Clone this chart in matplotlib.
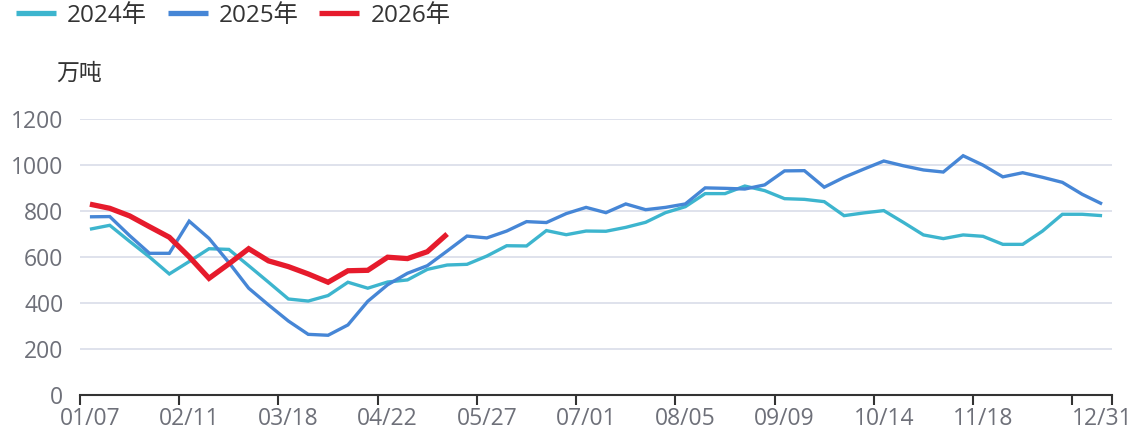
import numpy as np
import matplotlib
matplotlib.use("Agg")
import matplotlib.pyplot as plt

plt.rcParams["font.family"] = ["Open Sans", "Noto Sans CJK SC", "DejaVu Sans"]

# weekly values, 52 weeks (01/07 ... 12/31), unit: 万吨
y2024 = [720, 737, 667, 599, 525, 579, 635, 632, 561, 489,
         416, 407, 431, 489, 463, 490, 499, 545, 564, 567,
         603, 648, 647, 714, 696, 712, 711, 728, 750, 792,
         818, 875, 875, 908, 888, 853, 850, 840, 779, 791,
         801, 749, 695, 679, 695, 689, 654, 654, 712, 785,
         785, 779]
y2025 = [774, 775, 692, 615, 615, 755, 680, 575, 463, 390,
         320, 262, 258, 303, 406, 478, 528, 561, 625, 690,
         682, 712, 753, 749, 788, 815, 792, 830, 805, 815,
         830, 900, 898, 895, 913, 974, 975, 903, 946, 982,
         1017, 996, 978, 969, 1040, 999, 948, 966, 946, 924,
         872, 830]
y2026 = [829, 811, 778, 731, 685, 600, 506, 569, 635, 582,
         557, 525, 489, 539, 541, 598, 592, 622, 699]

series = [("2024年", y2024, "#3DB5CE", 2.4),
          ("2025年", y2025, "#4686D6", 2.4),
          ("2026年", y2026, "#E61B2C", 3.8)]

label_idx = [0, 5, 10, 15, 20, 25, 30, 35, 40, 45, 51]
label_txt = ["01/07", "02/11", "03/18", "04/22", "05/27", "07/01",
             "08/05", "09/09", "10/14", "11/18", "12/31"]
n_weeks = len(y2024)

W, H = 1137, 436
fig = plt.figure(figsize=(W / 100, H / 100), dpi=100)
ax = fig.add_axes([80 / W, (H - 394.5) / H, 1032 / W, (394.5 - 119) / H])

for name, vals, color, lw in series:
    ax.plot(np.arange(len(vals)), vals, color=color, lw=lw, label=name,
            solid_joinstyle="miter", solid_capstyle="butt")

ax.set_xlim(-0.5, n_weeks - 0.5)
ax.set_ylim(0, 1200)
ax.set_yticks(np.arange(0, 1201, 200))
ax.yaxis.grid(True, color="#DCDFEA", lw=1.3)
ax.set_axisbelow(True)

# ticks at band boundaries, labels at band centres
bounds = list(np.arange(-0.5, n_weeks - 1, 5)) + [n_weeks - 0.5]
ax.set_xticks(bounds)
ax.set_xticklabels([])
ax.set_xticks(label_idx, minor=True)
ax.set_xticklabels(label_txt, minor=True)
ax.tick_params(axis="x", which="major", length=7, width=1.5, color="#333333")
ax.tick_params(axis="x", which="minor", length=0, pad=9, labelsize=16.5,
               labelcolor="#6E7079")
ax.tick_params(axis="y", length=0, pad=12, labelsize=16.5, labelcolor="#6E7079")

for s in ["top", "right", "left"]:
    ax.spines[s].set_visible(False)
ax.spines["bottom"].set_color("#333333")
ax.spines["bottom"].set_linewidth(1.5)

fig.text(79 / W, 1 - 74 / H, "万吨", ha="center", va="center",
         fontsize=16.5, color="#333333")

leg = fig.legend(loc="upper left", bbox_to_anchor=(16 / W, 1 - 4 / H), ncol=3,
                 frameon=False, fontsize=17.5, handlelength=1.65, handletextpad=0.45,
                 columnspacing=0.85, borderpad=0, borderaxespad=0,
                 labelcolor="#333333")
for h in leg.legend_handles:
    h.set_linewidth(3.8)

fig.savefig("out.png", dpi=100)
